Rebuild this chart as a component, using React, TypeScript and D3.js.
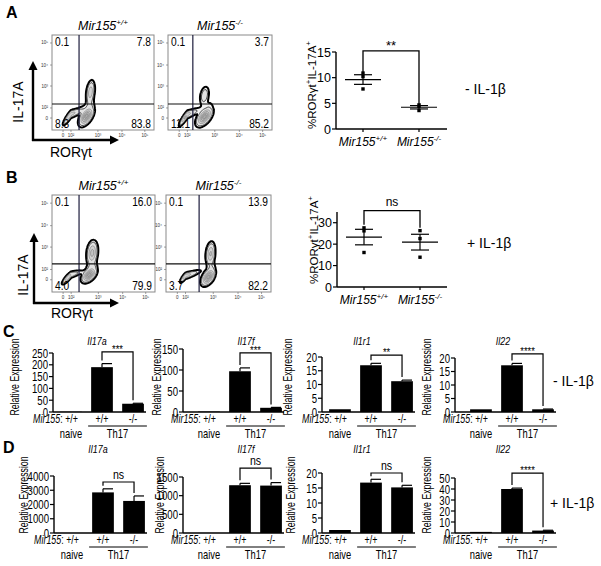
import React from "react";
import * as d3 from "d3";

// ================= DATA =================
const flowTickDecades = [1, 2, 3, 4, 5];
const flowTickLabels = ["0", "10²", "10³", "10⁴", "10⁵"];

// quadrant percentages [UL, UR, LL, LR]
const quadA_WT = ["0.1", "7.8", "8.3", "83.8"];
const quadA_KO = ["0.1", "3.7", "11.1", "85.2"];
const quadB_WT = ["0.1", "16.0", "4.0", "79.9"];
const quadB_KO = ["0.1", "13.9", "3.7", "82.2"];

// gates [RORγt, IL-17A] in decade units
const gateA_WT = [2.3, 2.18];
const gateA_KO = [2.2, 2.18];
const gateB_WT = [2.29, 2.25];
const gateB_KO = [2.49, 2.25];

// cell populations: [cx, cy, sx, sy, rho, weight] (decade units)
const popA_WT = [
  [2.55, 1.15, 0.13, 0.45, 0.55, 1],
  [2.7, 2.7, 0.08, 0.27, 0.3, 0.45],
  [1.75, 1.15, 0.38, 0.42, 0.88, 0.5],
];
const popA_KO = [
  [2.6, 1.1, 0.14, 0.44, 0.55, 1],
  [2.6, 2.55, 0.09, 0.22, 0.3, 0.25],
  [1.7, 1.05, 0.36, 0.42, 0.88, 0.55],
];
const popB_WT = [
  [2.64, 1.45, 0.13, 0.35, 0.5, 1],
  [2.75, 2.72, 0.1, 0.27, 0.2, 0.6],
  [1.6, 1.2, 0.38, 0.33, 0.85, 0.45],
];
const popB_KO = [
  [2.8, 1.25, 0.12, 0.4, 0.5, 1],
  [2.88, 2.68, 0.085, 0.26, 0.2, 0.55],
  [1.9, 1.3, 0.3, 0.3, 0.85, 0.45],
];

// scatter (% RORγt+ IL-17A+)
const scatterGroups = ["+/+", "-/-"];
const scatterA_WT = [10.9, 10.2, 7.8];
const scatterA_KO = [4.7, 4.4, 3.6];
const scatterB_WT = [27.6, 26.2, 16.1];
const scatterB_KO = [26.3, 22.6, 13.9];
const scatterA_ticks = [0, 5, 10, 15];
const scatterB_ticks = [0, 10, 20, 30];

// qPCR bars
const barCats = ["naive", "wt", "ko"];
const barGenes = ["Il17a", "Il17f", "Il1r1", "Il22"];
const C_means = [[1, 190, 35], [1, 97, 10], [1, 17, 11.2], [1, 17.3, 1]];
const C_errs = [[0, 15, 2], [0, 8, 1], [0, 0.7, 0.4], [0, 0.7, 0.1]];
const C_max = [250, 150, 20, 20];
const C_ticks = [[0, 50, 100, 150, 200, 250], [0, 50, 100, 150], [0, 5, 10, 15, 20], [0, 5, 10, 15, 20]];
const C_sig = ["***", "***", "**", "****"];
const C_bracket = [255, 141, 20.7, 21.5];

const D_means = [[1, 2850, 2250], [1, 1280, 1270], [1, 16.8, 15.2], [1, 40, 2.2]];
const D_errs = [[0, 250, 350], [0, 50, 80], [0, 1.1, 0.7], [0, 0.8, 0.3]];
const D_max = [4000, 1500, 20, 50];
const D_ticks = [[0, 1000, 2000, 3000, 4000], [0, 500, 1000, 1500], [0, 5, 10, 15, 20], [0, 10, 20, 30, 40, 50]];
const D_sig = ["ns", "ns", "ns", "****"];
const D_bracket = [3580, 1740, 20, 54.5];

// ================= LAYOUT =================
const FONT = "'Liberation Sans', Arial, Helvetica, sans-serif";
const FLOW_XF = [0.108, 0.186, 0.45, 0.686, 0.91];
const FLOW_YF = [0.126, 0.232, 0.463, 0.684, 0.916];
const CONTOUR_FILL = ["#f3f3f3", "#e2e2e2", "#d2d2d2", "#c4c4c4", "#b8b8b8", "#aaaaaa"];
const CONTOUR_STROKE = ["#000", "#333", "#777", "#777", "#777", "#777"];

function CT(props: any) {
  const { x, y, size, sx = 0.8, anchor = "start", rotate = 0, italic, bold, children, fill = "#000" } = props;
  return (
    <text
      transform={`translate(${x},${y}) rotate(${rotate}) scale(${sx},1)`}
      fontSize={size}
      textAnchor={anchor}
      fontStyle={italic ? "italic" : "normal"}
      fontWeight={bold ? "bold" : "normal"}
      fill={fill}
    >
      {children}
    </text>
  );
}

function FlowPlot(props: any) {
  const { id, left, top, w, h, pops, gate, quad, geno } = props;
  const bottom = top + h;
  const right = left + w;
  const xS = d3.scaleLinear().domain(flowTickDecades).range(FLOW_XF.map((f) => left + f * w));
  const yS = d3.scaleLinear().domain(flowTickDecades).range(FLOW_YF.map((f) => bottom - f * h));
  const n = 120;
  const span = 5.6;
  const step = span / n;
  const vals: number[] = new Array(n * n);
  for (let j = 0; j < n; j++) {
    for (let i = 0; i < n; i++) {
      const x = i * step;
      const y = j * step;
      let s = 0;
      for (const p of pops) {
        const [cx, cy, sx, sy, r, wt] = p;
        const zx = (x - cx) / sx;
        const zy = (y - cy) / sy;
        const q = (zx * zx - 2 * r * zx * zy + zy * zy) / (1 - r * r);
        s += wt * Math.exp(-0.5 * q);
      }
      vals[i + j * n] = s;
    }
  }
  const ths = [0.05, 0.12, 0.3, 0.5, 0.7, 0.88];
  const cs = d3.contours().size([n, n]).thresholds(ths)(vals);
  const path = d3.geoPath(
    d3.geoTransform({
      point: function (x: number, y: number) {
        (this as any).stream.point(xS(x * step), yS(y * step));
      },
    })
  );
  return (
    <g>
      <clipPath id={id}>
        <rect x={left} y={top} width={w} height={h} />
      </clipPath>
      <g clipPath={`url(#${id})`}>
        {cs.map((c, k) => (
          <path
            key={k}
            d={path(c as any) || ""}
            fill={CONTOUR_FILL[k]}
            stroke={CONTOUR_STROKE[k]}
            strokeWidth={k === 0 ? 2 : k === 1 ? 0.9 : 0.6}
          />
        ))}
      </g>
      <rect x={left} y={top} width={w} height={h} fill="none" stroke="#8a8a8a" strokeWidth={1} />
      <line x1={xS(gate[0])} x2={xS(gate[0])} y1={top} y2={bottom} stroke="#1c1c3c" strokeWidth={1.2} />
      <line x1={left} x2={right} y1={yS(gate[1])} y2={yS(gate[1])} stroke="#111" strokeWidth={1.2} />
      {flowTickDecades.map((d, k) => (
        <g key={"xt" + k}>
          <line x1={xS(d)} x2={xS(d)} y1={bottom} y2={bottom + 2} stroke="#666" strokeWidth={0.6} />
          <text x={xS(d)} y={bottom + 7} fontSize={4.5} textAnchor="middle" fill="#333">
            {flowTickLabels[k]}
          </text>
          <line x1={left - 2} x2={left} y1={yS(d)} y2={yS(d)} stroke="#666" strokeWidth={0.6} />
          <text x={left - 4} y={yS(d) + 1.5} fontSize={4.5} textAnchor="end" fill="#333">
            {flowTickLabels[k]}
          </text>
        </g>
      ))}
      <CT x={left + 3} y={top + 11} size={12} sx={0.85}>{quad[0]}</CT>
      <CT x={right - 3} y={top + 11} size={12} sx={0.85} anchor="end">{quad[1]}</CT>
      <CT x={left + 3} y={bottom - 2} size={12} sx={0.85}>{quad[2]}</CT>
      <CT x={right - 3} y={bottom - 2} size={12} sx={0.85} anchor="end">{quad[3]}</CT>
      <text x={left + w / 2} y={top - 5} fontSize={12.5} textAnchor="middle" fontStyle="italic">
        Mir155
        <tspan dy={-5} fontSize={8}>{geno}</tspan>
      </text>
    </g>
  );
}

function Arrows(props: any) {
  const { ax, ay, yTip, xTip, labelY, ylX, ylY } = props;
  return (
    <g>
      <line x1={ax} x2={ax} y1={ay + 1} y2={yTip + 8} stroke="#000" strokeWidth={2.4} />
      <path d={`M${ax - 4.5},${yTip + 9} L${ax + 4.5},${yTip + 9} L${ax},${yTip} Z`} fill="#000" />
      <line x1={ax - 1} x2={xTip - 8} y1={ay} y2={ay} stroke="#000" strokeWidth={2.4} />
      <path d={`M${xTip - 9},${ay - 4.5} L${xTip - 9},${ay + 4.5} L${xTip},${ay} Z`} fill="#000" />
      <text transform={`translate(${ylX},${ylY}) rotate(-90)`} fontSize={14} textAnchor="middle">IL-17A</text>
      <text x={ax + 38} y={labelY} fontSize={14} textAnchor="middle">RORγt</text>
    </g>
  );
}

function Scatter(props: any) {
  const { x0, x1, yB, yT, yMax, ticks, wt, ko, gx, sig, bracketY, ylX, ylY, dropGap } = props;
  const y = d3.scaleLinear().domain([0, yMax]).range([yB, yT]);
  const x = d3.scalePoint().domain(scatterGroups).range(gx);
  const groups = [wt, ko];
  const by = bracketY;
  return (
    <g>
      <line x1={x0} x2={x0} y1={yB} y2={yT} stroke="#000" strokeWidth={1.4} />
      <line x1={x0} x2={x1} y1={yB} y2={yB} stroke="#000" strokeWidth={1.4} />
      {ticks.map((t: number) => (
        <g key={t}>
          <line x1={x0 - 4} x2={x0} y1={y(t)} y2={y(t)} stroke="#000" strokeWidth={1.2} />
          <text x={x0 - 5} y={y(t) + 4.5} fontSize={12.5} textAnchor="end">{t}</text>
        </g>
      ))}
      {scatterGroups.map((g, gi) => {
        const cx = x(g) as number;
        const vals = groups[gi];
        const m = d3.mean(vals) as number;
        const sem = (d3.deviation(vals) as number) / Math.sqrt(vals.length);
        return (
          <g key={g}>
            <line x1={cx} x2={cx} y1={yB} y2={yB + 3} stroke="#000" strokeWidth={1.2} />
            <line x1={cx - 18} x2={cx + 18} y1={y(m)} y2={y(m)} stroke="#000" strokeWidth={1.2} />
            <line x1={cx - 9} x2={cx + 9} y1={y(m + sem)} y2={y(m + sem)} stroke="#000" strokeWidth={1.2} />
            <line x1={cx - 9} x2={cx + 9} y1={y(m - sem)} y2={y(m - sem)} stroke="#000" strokeWidth={1.2} />
            <line x1={cx} x2={cx} y1={y(m + sem)} y2={y(m - sem)} stroke="#000" strokeWidth={1.2} />
            {vals.map((v: number, k: number) => (
              <rect key={k} x={cx - 1.7} y={y(v) - 1.7} width={3.4} height={3.4} fill="#000" />
            ))}
            <text x={cx} y={yB + 17} fontSize={12} textAnchor="middle" fontStyle="italic">
              Mir155
              <tspan dy={-5} fontSize={8}>{g}</tspan>
            </text>
          </g>
        );
      })}
      {(() => {
        const xa = x(scatterGroups[0]) as number;
        const xb = x(scatterGroups[1]) as number;
        const ya = y(d3.max(wt) as number) - dropGap;
        const yb = y(d3.max(ko) as number) - dropGap;
        return (
          <g>
            <path d={`M${xa},${ya} L${xa},${y(by)} L${xb},${y(by)} L${xb},${yb}`} fill="none" stroke="#000" strokeWidth={1.3} />
            <text x={(xa + xb) / 2} y={y(by) - (sig === "ns" ? 5 : 1)} fontSize={sig === "ns" ? 12 : 13} textAnchor="middle">{sig}</text>
          </g>
        );
      })()}
      <text transform={`translate(${ylX},${ylY}) rotate(-90)`} fontSize={11.5} textAnchor="middle">
        %RORγt
        <tspan dy={-5} fontSize={8}>+</tspan>
        <tspan dy={5}>IL-17A</tspan>
        <tspan dy={-5} fontSize={8}>+</tspan>
      </text>
    </g>
  );
}

function BarChart(props: any) {
  const { x0, off, yT, yB, yMax, ticks, means, errs, gene, sig, bracket, titleDx, titleY, ylX, ylY } = props;
  const y = d3.scaleLinear().domain([0, yMax]).range([yB, yT]);
  const xb = d3.scaleBand().domain(barCats).range([x0 + off, x0 + off + 90]).paddingInner(0.3).paddingOuter(0.1);
  const bw = xb.bandwidth();
  const cx = (c: string) => (xb(c) as number) + bw / 2;
  const topOf = (k: number) => y(means[k] + errs[k]);
  const xa = cx("wt");
  const xk = cx("ko");
  const by = y(bracket);
  return (
    <g>
      <line x1={x0} x2={x0} y1={yB} y2={yT} stroke="#000" strokeWidth={1.4} />
      <line x1={x0} x2={x0 + off + 89} y1={yB} y2={yB} stroke="#000" strokeWidth={1.4} />
      {ticks.map((t: number) => (
        <g key={t}>
          <line x1={x0 - 4} x2={x0} y1={y(t)} y2={y(t)} stroke="#000" strokeWidth={1.2} />
          <CT x={x0 - 5} y={y(t) + 4.5} size={13} sx={0.74} anchor="end">{t}</CT>
        </g>
      ))}
      {barCats.map((c, k) => (
        <g key={c}>
          {errs[k] > 0 && (
            <g>
              <line x1={cx(c)} x2={cx(c)} y1={y(means[k])} y2={y(means[k] + errs[k])} stroke="#000" strokeWidth={1.2} />
              <line x1={cx(c)} x2={cx(c) + 10} y1={y(means[k] + errs[k])} y2={y(means[k] + errs[k])} stroke="#000" strokeWidth={1.2} />
            </g>
          )}
          <rect x={xb(c)} y={y(means[k])} width={bw} height={yB - y(means[k])} fill="#000" />
        </g>
      ))}
      <path d={`M${xa},${topOf(1) - 3} L${xa},${by} L${xk},${by} L${xk},${topOf(2) - 3}`} fill="none" stroke="#000" strokeWidth={1.2} />
      {sig === "ns" ? (
        <CT x={(xa + xk) / 2} y={by - 3} size={12.5} sx={0.85} anchor="middle">{sig}</CT>
      ) : (
        <CT x={(xa + xk) / 2} y={by + 1} size={11} sx={0.85} anchor="middle">{sig}</CT>
      )}
      <CT x={x0 + titleDx} y={titleY} size={10.5} sx={0.85} anchor="middle" italic>{gene}</CT>
      <CT x={ylX} y={ylY} size={12.5} sx={0.7} anchor="middle" rotate={-90}>Relative Expression</CT>
      <CT x={cx("naive") + 7} y={yB + 11} size={12} sx={0.74} anchor="end">
        <tspan fontStyle="italic">Mir155</tspan>: +/+
      </CT>
      <CT x={xa} y={yB + 11} size={12} sx={0.74} anchor="middle">+/+</CT>
      <CT x={xk} y={yB + 11} size={12} sx={0.74} anchor="middle">-/-</CT>
      <line x1={(xb("wt") as number) - 3} x2={(xb("ko") as number) + bw + 3} y1={yB + 14} y2={yB + 14} stroke="#000" strokeWidth={1} />
      <CT x={cx("naive")} y={yB + 25.5} size={12} sx={0.78} anchor="middle">naive</CT>
      <CT x={(xa + xk) / 2} y={yB + 25.5} size={12} sx={0.78} anchor="middle">Th17</CT>
    </g>
  );
}

const C_X0 = [53, 183, 322, 455];
const C_OFF = [4, 12, 4, 12];
const C_YT = [353, 349, 357, 358];
const D_YT = [476, 477, 473, 478];
const TITLE_DX = [44, 63, 40, 48];
const C_YLX = [19, 161, 292, 431];
const D_YLX = [28, 164, 295, 431];

export default function App() {
  return (
    <svg
      width={601}
      height={566}
      style={{ position: "absolute", left: 0, top: 0, display: "block" }}
      fontFamily={FONT}
    >
      <rect width={601} height={566} fill="#fff" />
      {/* Panel letters */}
      <text x={6} y={18} fontSize={16} fontWeight="bold">A</text>
      <text x={6} y={183} fontSize={16} fontWeight="bold">B</text>
      <text x={3} y={337} fontSize={16} fontWeight="bold">C</text>
      <text x={3} y={453} fontSize={16} fontWeight="bold">D</text>

      {/* Panel A flow */}
      <FlowPlot id="fa1" left={52} top={35} w={102} h={95} pops={popA_WT} gate={gateA_WT} quad={quadA_WT} geno="+/+" />
      <FlowPlot id="fa2" left={168} top={35} w={104} h={95} pops={popA_KO} gate={gateA_KO} quad={quadA_KO} geno="-/-" />
      <Arrows ax={33} ay={140} yTip={61} xTip={119} labelY={157} ylX={23} ylY={102} />

      {/* Panel B flow */}
      <FlowPlot id="fb1" left={52} top={195} w={103} h={97} pops={popB_WT} gate={gateB_WT} quad={quadB_WT} geno="+/+" />
      <FlowPlot id="fb2" left={166} top={195} w={105} h={97} pops={popB_KO} gate={gateB_KO} quad={quadB_KO} geno="-/-" />
      <Arrows ax={34} ay={303} yTip={233} xTip={119} labelY={318} ylX={28} ylY={275} />

      {/* Scatter A/B */}
      <Scatter x0={336} x1={447} yB={129} yT={52} yMax={15} ticks={scatterA_ticks} wt={scatterA_WT} ko={scatterA_KO}
        gx={[363, 419]} sig="**" bracketY={15.2} ylX={316} ylY={85} dropGap={1} />
      <text x={465} y={94} fontSize={14}>- IL-1β</text>
      <Scatter x0={337} x1={447} yB={287} yT={212} yMax={35} ticks={scatterB_ticks} wt={scatterB_WT} ko={scatterB_KO}
        gx={[364, 420]} sig="ns" bracketY={35.6} ylX={318} ylY={240} dropGap={3} />
      <text x={467} y={248} fontSize={14}>+ IL-1β</text>

      {/* Panel C */}
      {barGenes.map((g, i) => (
        <BarChart key={"c" + g} x0={C_X0[i]} off={C_OFF[i]} yT={C_YT[i]} yB={412} yMax={C_max[i]} ticks={C_ticks[i]}
          means={C_means[i]} errs={C_errs[i]} gene={g} sig={C_sig[i]} bracket={C_bracket[i]}
          titleDx={TITLE_DX[i]} titleY={345} ylX={C_YLX[i]} ylY={377} />
      ))}
      <text x={553} y={386} fontSize={14}>- IL-1β</text>

      {/* Panel D */}
      {barGenes.map((g, i) => (
        <BarChart key={"d" + g} x0={C_X0[i] + (i === 0 ? 1 : 0)} off={C_OFF[i]} yT={D_YT[i]} yB={533} yMax={D_max[i]} ticks={D_ticks[i]}
          means={D_means[i]} errs={D_errs[i]} gene={g} sig={D_sig[i]} bracket={D_bracket[i]}
          titleDx={TITLE_DX[i]} titleY={453} ylX={D_YLX[i]} ylY={495} />
      ))}
      <text x={550} y={508} fontSize={14}>+ IL-1β</text>
    </svg>
  );
}
